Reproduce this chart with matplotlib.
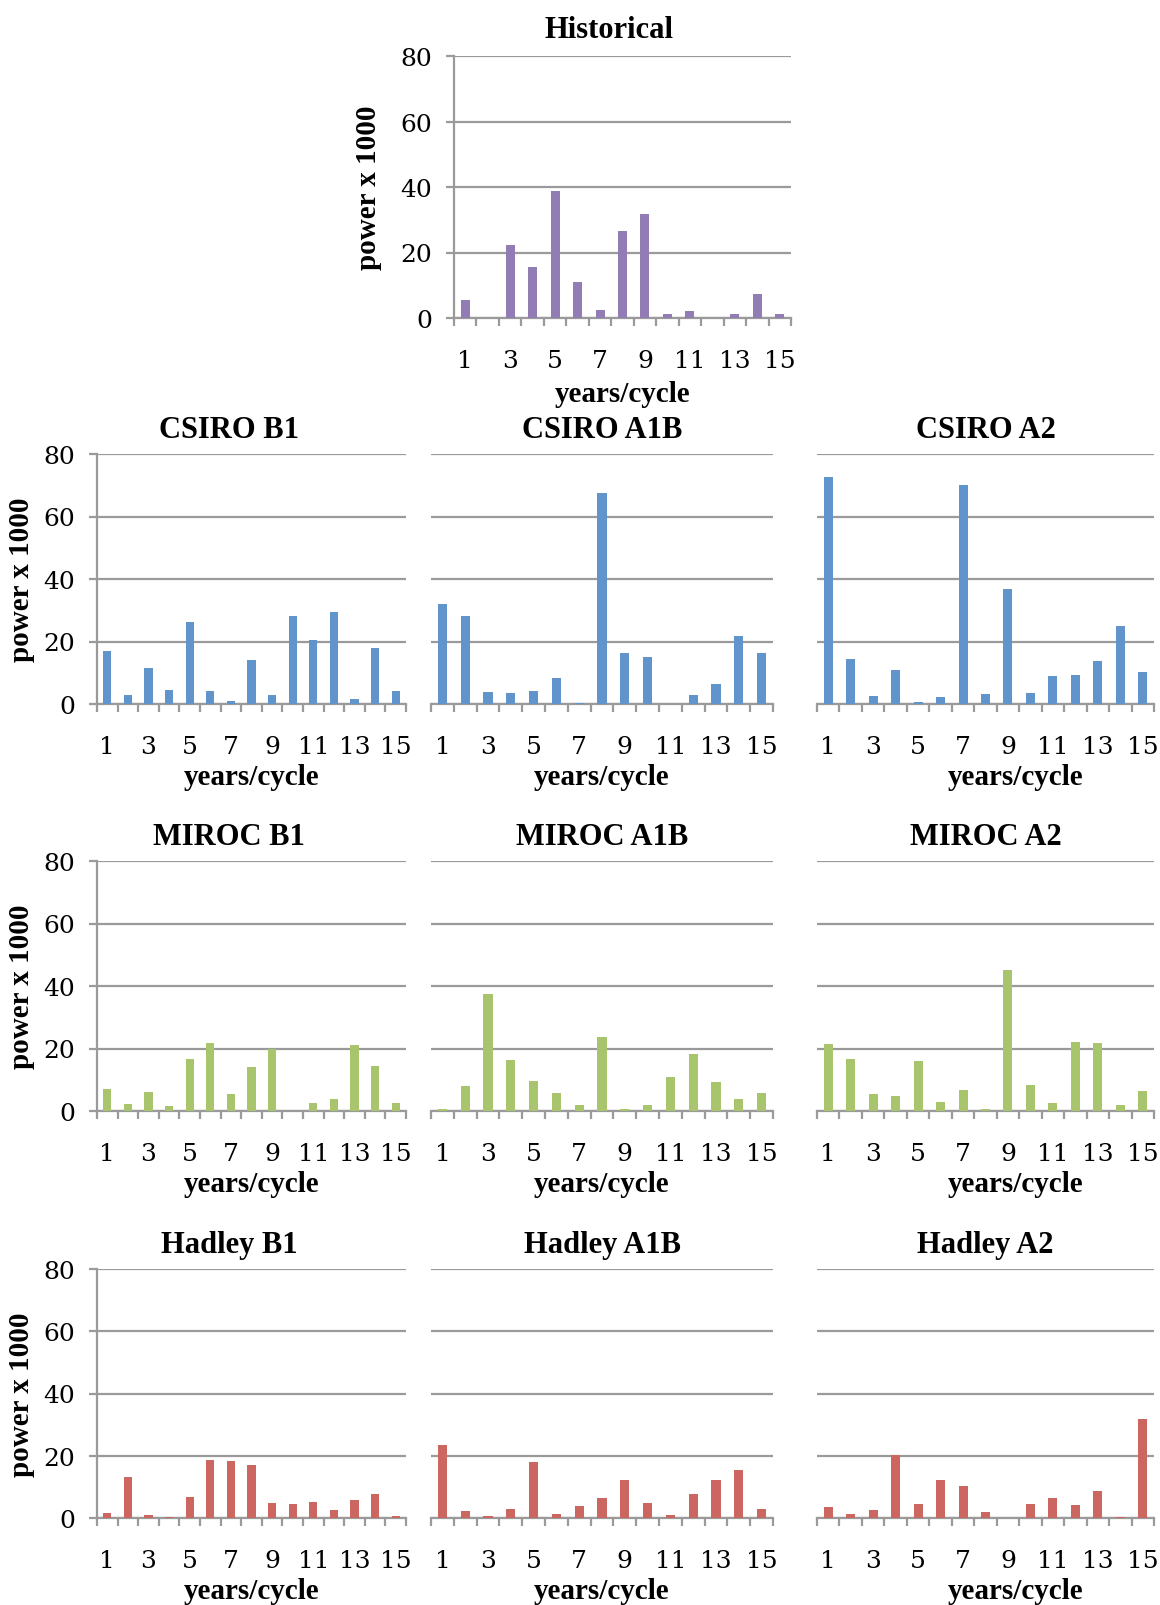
import numpy as np
import matplotlib
matplotlib.use("Agg")
import matplotlib.pyplot as plt

# ----------------------------
# data (power x 1000 for cycle 1..15 years)
# ----------------------------
cycles = list(range(1, 16))

historical = [5.4, 0, 22.3, 15.5, 38.7, 11.0, 2.5, 26.7, 31.9, 1.3, 2.2, 0, 1.1, 7.3, 1.2]

csiro_b1 = [17.0, 2.8, 11.4, 4.4, 26.2, 4.3, 0.9, 14.0, 3.0, 28.2, 20.6, 29.3, 1.6, 17.8, 4.3]
csiro_a1b = [32.1, 28.1, 3.8, 3.4, 4.1, 8.2, 0.4, 67.6, 16.2, 15.1, 0, 3.0, 6.5, 21.9, 16.4]
csiro_a2 = [72.7, 14.5, 2.5, 11.0, 0.6, 2.4, 70.1, 3.2, 36.9, 3.6, 8.9, 9.4, 13.8, 25.1, 10.3]

miroc_b1 = [7.0, 2.1, 6.0, 1.5, 16.6, 21.7, 5.3, 14.0, 19.8, 0, 2.7, 4.0, 21.0, 14.4, 2.5]
miroc_a1b = [0.5, 7.9, 37.3, 16.3, 9.5, 5.7, 1.9, 23.6, 0.7, 1.9, 10.8, 18.3, 9.3, 3.7, 5.8]
miroc_a2 = [21.5, 16.5, 5.4, 4.8, 15.9, 2.9, 6.7, 0.6, 45.2, 8.3, 2.5, 22.2, 21.9, 1.8, 6.5]

hadley_b1 = [1.7, 13.2, 1.0, 0.3, 6.8, 18.6, 18.3, 16.9, 4.8, 4.6, 5.1, 2.7, 5.7, 7.8, 0.6]
hadley_a1b = [23.5, 2.4, 0.7, 2.8, 18.1, 1.4, 4.0, 6.3, 12.3, 4.7, 0.9, 7.8, 12.3, 15.3, 2.9]
hadley_a2 = [3.4, 1.2, 2.5, 20.1, 4.4, 12.1, 10.4, 1.9, 0, 4.4, 6.4, 4.2, 8.7, 0.3, 31.8]

PURPLE = "#917db3"
BLUE = "#6094ca"
GREEN = "#a8c46c"
RED = "#cc6661"
GRAY = "#9a9a9a"

W, H = 1160, 1606
fig = plt.figure(figsize=(W / 100, H / 100), dpi=100)

def px_axes(x0, y0, x1, y1):
    return fig.add_axes([x0 / W, 1 - y1 / H, (x1 - x0) / W, (y1 - y0) / H])

def draw_panel(box, values, color, title, show_y, title_x=0.5, xlabel_x=0.5,
               ylabel_x=-0.2, title_pad=12):
    ax = px_axes(*box)
    ax.bar(cycles, values, width=0.4, color=color, zorder=3)
    ax.set_xlim(0.5, 15.5)
    ax.set_ylim(0, 80)
    ax.set_yticks([0, 20, 40, 60, 80])
    ax.yaxis.grid(True, color=GRAY, linewidth=1.6)
    ax.set_axisbelow(True)
    for s in ["top", "right"]:
        ax.spines[s].set_visible(False)
    ax.spines["bottom"].set_color(GRAY)
    ax.spines["bottom"].set_linewidth(1.6)
    if show_y:
        ax.spines["left"].set_color(GRAY)
        ax.spines["left"].set_linewidth(1.6)
        ax.tick_params(axis="y", direction="out", length=6, width=1.6, color=GRAY,
                       pad=10, labelsize=18)
        for t in ax.get_yticklabels():
            t.set_fontfamily("DejaVu Serif")
        ax.set_ylabel("power x 1000", fontfamily="Liberation Serif", fontweight="bold",
                      fontsize=21)
        ax.yaxis.set_label_coords(ylabel_x, 0.5)
    else:
        ax.spines["left"].set_visible(False)
        ax.tick_params(axis="y", length=0, labelleft=False)

    # tick marks between categories, labels on odd categories
    ax.set_xticks(np.arange(0.5, 16, 1.0))
    ax.set_xticklabels([])
    ax.tick_params(axis="x", which="major", direction="out", length=6, width=1.6, color=GRAY)
    ax.set_xticks(cycles[::2], minor=True)
    ax.set_xticklabels([str(c) for c in cycles[::2]], minor=True,
                       fontfamily="DejaVu Serif", fontsize=18)
    ax.tick_params(axis="x", which="minor", length=0, pad=22)

    ax.set_xlabel("years/cycle", fontfamily="Liberation Serif", fontweight="bold", fontsize=21)
    ax.xaxis.set_label_coords(xlabel_x, -0.235)
    ax.xaxis.label.set_va("top")
    ax.set_title(title, fontfamily="Liberation Serif", fontweight="bold", fontsize=22,
                 x=title_x, pad=title_pad)
    return ax

draw_panel((454, 57, 791, 319), historical, PURPLE, "Historical", True,
           title_x=0.461, ylabel_x=-0.215, title_pad=14)

rows = [
    (455, 705, [csiro_b1, csiro_a1b, csiro_a2], BLUE, "CSIRO"),
    (862, 1112, [miroc_b1, miroc_a1b, miroc_a2], GREEN, "MIROC"),
    (1270, 1519, [hadley_b1, hadley_a1b, hadley_a2], RED, "Hadley"),
]
cols = [(97, 406, "B1"), (431, 773, "A1B"), (817, 1154, "A2")]

for y0, y1, series, color, model in rows:
    for j, (x0, x1, scen) in enumerate(cols):
        draw_panel((x0, y0, x1, y1), series[j], color, f"{model} {scen}", j == 0,
                   title_x=0.427 if j == 0 else 0.5,
                   xlabel_x=0.588 if j == 2 else 0.5)

fig.savefig("out.png", dpi=100)
